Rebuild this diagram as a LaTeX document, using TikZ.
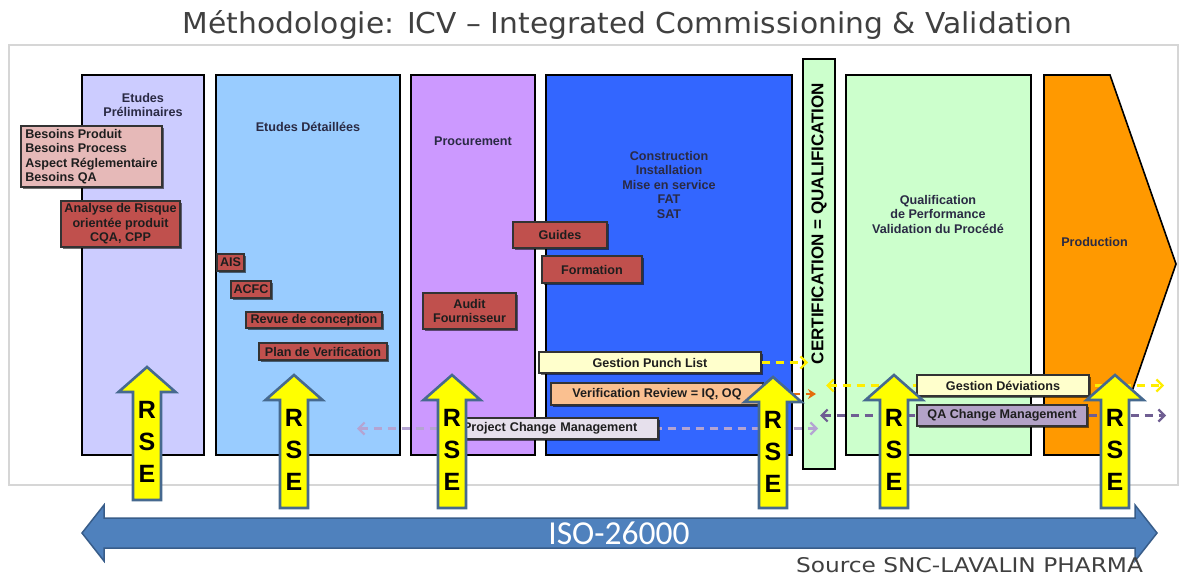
\documentclass[tikz,border=0pt]{standalone}
\usepackage{fontspec}
\setmainfont{Liberation Sans}
\newfontfamily\titlefont{DejaVu Sans}
\newfontfamily\isofont{Carlito}
\usetikzlibrary{arrows.meta,shadows}
\definecolor{colA}{HTML}{CCCCFF}
\definecolor{colB}{HTML}{99CCFF}
\definecolor{colC}{HTML}{CC99FF}
\definecolor{colD}{HTML}{3366FF}
\definecolor{colE}{HTML}{CCFFCC}
\definecolor{colF}{HTML}{FF9900}
\definecolor{redbox}{HTML}{C0504D}
\definecolor{pinkbox}{HTML}{E6B9B8}
\definecolor{lightyel}{HTML}{FFFFCC}
\definecolor{lightora}{HTML}{FAC090}
\definecolor{lightlav}{HTML}{E6E0EC}
\definecolor{lavbox}{HTML}{B3A2C7}
\definecolor{labtext}{HTML}{2A2A44}
\definecolor{boxtext}{HTML}{1E1E1E}
\definecolor{rseborder}{HTML}{46698F}
\definecolor{rsefill}{HTML}{FFFF00}
\definecolor{isofill}{HTML}{4F81BD}
\definecolor{isoborder}{HTML}{385D8A}
\definecolor{framegray}{HTML}{D6D6D6}
\definecolor{titlegray}{HTML}{404040}
\definecolor{yeldash}{HTML}{FFEE00}
\definecolor{oradash}{HTML}{E46C0A}
\definecolor{lavdash}{HTML}{B4A4D2}
\definecolor{purdash}{HTML}{6F5E92}
\newcommand{\rsearrow}[4]{%
  \draw[rseshape] (#2,#3) -- ({#2+28.5},{#3+25}) -- ({#2+14},{#3+25}) -- ({#2+14},#4)
    -- ({#2-14},#4) -- ({#2-14},{#3+25}) -- ({#2-28.5},{#3+25}) -- cycle;
  \node[rsetext] (#1) at (#2,{#3+75}) {R\\S\\E};
}
\begin{document}
\begin{tikzpicture}[x=1pt,y=-1pt,
  column/.style={draw=black,line width=1.6pt,inner sep=0pt},
  collabel/.style={font=\bfseries\fontsize{12.6}{14.5}\selectfont,text=labtext,align=center,inner sep=0pt},
  box/.style={draw=black!80,line width=1.2pt,inner sep=0pt,align=center,text=boxtext,
    font=\bfseries\fontsize{12.6}{14.5}\selectfont,
    drop shadow={shadow xshift=2pt,shadow yshift=-2pt,opacity=0.55,fill=black}},
  redb/.style={box,fill=redbox},
  dashln/.style={line width=2.2pt,dash pattern=on 8pt off 6pt},
  rseshape/.style={fill=rsefill,draw=rseborder,line width=2.6pt,line join=miter},
  rsetext/.style={font=\bfseries\fontsize{25}{32}\selectfont,align=center,inner sep=0pt,text=black}
]
\useasboundingbox (0,0) rectangle (1180,576);
\fill[white] (0,0) rectangle (1180,576);

% title
\node[anchor=base,text=titlegray,inner sep=0pt] (title) at (627.5,33)
  {\resizebox{889pt}{23pt}{\titlefont Méthodologie: ICV – Integrated Commissioning \& Validation}};

% frame
\draw[framegray,line width=1.2pt] (9,45) rectangle (1178,485);

% columns
\node[column,fill=colA,minimum width=122pt,minimum height=380pt] (cA) at (143,265) {};
\node[column,fill=colB,minimum width=184pt,minimum height=380pt] (cB) at (308,265) {};
\node[column,fill=colC,minimum width=124pt,minimum height=380pt] (cC) at (473,265) {};
\node[column,fill=colD,minimum width=246pt,minimum height=380pt] (cD) at (669,265) {};
\node[column,fill=colE,minimum width=32pt,minimum height=410pt] (cert) at (819,264) {};
\node[column,fill=colE,minimum width=185pt,minimum height=380pt] (cE) at (938.5,265) {};
\draw[column,fill=colF,line join=miter] (1044,75) -- (1110,75) -- (1176,264) -- (1110,455) -- (1044,455) -- cycle;

% column labels
\node[collabel] (lA) at (143,105) {Etudes\\Préliminaires};
\node[collabel] (lB) at (308,127) {Etudes Détaillées};
\node[collabel] (lC) at (473,141) {Procurement};
\node[collabel] (lD) at (669,184.5) {Construction\\Installation\\Mise en service\\FAT\\SAT};
\node[collabel] (lE) at (938,214) {Qualification\\de Performance\\Validation du Procédé};
\node[collabel] (lF) at (1094.5,242) {Production};
\node[font=\bfseries\fontsize{17}{17}\selectfont,rotate=90,inner sep=0pt] (certtext) at (819,223.5) {CERTIFICATION = QUALIFICATION};

% boxes
\node[box,fill=pinkbox,align=left,minimum width=141pt,minimum height=61pt] (besoins) at (91.5,156.5)
  {Besoins Produit\\Besoins Process\\Aspect Réglementaire\\Besoins QA};
\node[redb,minimum width=119pt,minimum height=46pt] (analyse) at (120.5,224)
  {Analyse de Risque\\orientée produit\\CQA, CPP};
\node[redb,minimum width=27pt,minimum height=17pt] (ais) at (230.5,262.5) {AIS};
\node[redb,minimum width=40pt,minimum height=17pt] (acfc) at (251,289.5) {ACFC};
\node[redb,minimum width=136pt,minimum height=16pt] (revue) at (314,320) {Revue de conception};
\node[redb,minimum width=128pt,minimum height=17pt] (plan) at (323,351.5) {Plan de Verification};
\node[redb,minimum width=93pt,minimum height=36pt] (audit) at (469.5,311) {Audit\\Fournisseur};
\node[redb,minimum width=94pt,minimum height=26pt] (guides) at (560,235) {Guides};
\node[redb,minimum width=100pt,minimum height=27pt] (formation) at (592,269.5) {Formation};

% long dashed connectors (behind their boxes)
\coordinate (pcmL) at (357,428.5);
\coordinate (pcmR) at (818,428.5);
\coordinate (gdL) at (826,385.5);
\coordinate (gdR) at (1164,385.5);
\coordinate (qaL) at (820,415.5);
\coordinate (qaR) at (1166,415.5);
\draw[dashln,lavdash,{Straight Barb[length=6pt,width=12pt]}-{Straight Barb[length=6pt,width=12pt]}] (pcmL) -- (pcmR);
\draw[dashln,yeldash,{Straight Barb[length=6pt,width=12pt]}-{Straight Barb[length=6pt,width=12pt]}] (gdL) -- (gdR);
\draw[dashln,purdash,{Straight Barb[length=6pt,width=12pt]}-{Straight Barb[length=6pt,width=12pt]}] (qaL) -- (qaR);

\node[box,fill=lightlav,align=left,text width=190pt,inner xsep=5pt,minimum height=21pt] (pcm) at (558,428.5) {Project Change Management};
\node[box,fill=lightyel,minimum width=172pt,minimum height=21pt] (gd) at (1003,385.5) {Gestion Déviations};
\node[box,fill=lavbox,minimum width=170pt,minimum height=21pt] (qa) at (1002,415.5) {QA Change Management};

\node[box,fill=lightyel,minimum width=222pt,minimum height=21pt] (punch) at (650,362.5) {Gestion Punch List};
\node[box,fill=lightora,minimum width=212pt,minimum height=22pt] (verif) at (657,394) {Verification Review = IQ, OQ};
\coordinate (punchEnd) at (808,362.5);
\coordinate (verifEnd) at (816,394);
\draw[dashln,yeldash,-{Straight Barb[length=6pt,width=12pt]}] (punch.east) -- (punchEnd);
\draw[dashln,oradash,-{Stealth[length=8pt,width=10pt]}] (verif.east) -- (verifEnd);

% RSE arrows
\rsearrow{rse1}{147}{367}{500}
\rsearrow{rse2}{294}{375}{508}
\rsearrow{rse3}{452}{375}{508}
\rsearrow{rse4}{773}{377}{508}
\rsearrow{rse5}{894}{375}{508}
\rsearrow{rse6}{1115}{375}{508}

% ISO arrow
\draw[fill=isofill,draw=isoborder,line width=1.5pt,line join=miter]
  (82,533) -- (104,505) -- (104,518) -- (1135,518) -- (1135,505) -- (1157,533)
  -- (1135,561) -- (1135,548) -- (104,548) -- (104,561) -- cycle;
\node[text=white,font=\isofont\fontsize{33.5}{34}\selectfont,inner sep=0pt] (iso) at (619,533) {ISO-26000};

% source
\node[anchor=base,text=titlegray,inner sep=0pt] (source) at (969.5,572)
  {\resizebox{347pt}{15pt}{\titlefont Source SNC-LAVALIN PHARMA}};
\end{tikzpicture}
\end{document}
